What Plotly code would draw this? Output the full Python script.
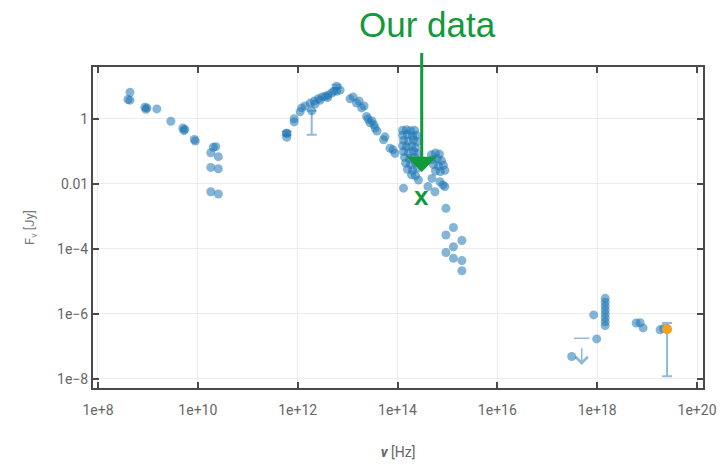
import math
import plotly.graph_objects as go

# ---------------- data ----------------
# archival SED points: frequency [Hz] and flux density [Jy]
radio_nu = [4.37e8, 4.37e8, 3.98e8, 8.71e8, 9.55e8, 9.12e8, 1.51e9, 2.88e9, 5.01e9, 5.50e9,
            5.25e9, 8.51e9, 8.91e9, 2.04e10, 2.29e10, 1.82e10, 2.57e10, 1.82e10, 2.57e10,
            1.82e10, 2.57e10]
radio_f = [6.61, 3.80, 3.98, 2.29, 2.19, 2.00, 2.04, 0.851, 0.525, 0.479,
           0.437, 0.234, 0.209, 0.135, 0.141, 0.0912, 0.0692, 0.0324, 0.0295,
           0.00575, 0.0049]

ir_nu = [6.03e11, 6.03e11, 8.51e11, 8.51e11, 1.20e12, 1.41e12, 1.12e12, 1.78e12, 2.14e12,
         2.24e12, 2.57e12, 2.82e12, 3.09e12, 3.55e12, 3.98e12, 4.07e12, 4.79e12, 5.37e12,
         6.03e12, 7.08e12, 1.12e13, 1.29e13, 1.51e13, 1.70e13, 1.91e13, 2.14e13, 2.40e13,
         2.57e13, 2.82e13, 3.09e13, 3.39e13, 3.55e13, 3.89e13, 5.25e13, 5.62e13, 7.08e13,
         8.13e13, 8.91e13]
ir_f = [0.363, 0.275, 1.02, 0.813, 2.19, 2.51, 1.66, 3.09, 3.55,
        2.88, 4.17, 3.80, 4.79, 5.01, 4.57, 5.50, 6.31, 7.24,
        7.08, 7.76, 4.17, 4.79, 3.09, 3.55, 2.19, 2.51, 1.20,
        1.00, 0.759, 0.871, 0.661, 0.525, 0.427, 0.229, 0.282, 0.126,
        0.112, 0.0871]

opt_nu = [1.26e14, 1.51e14, 1.82e14, 2.19e14, 1.26e14, 1.58e14, 2.00e14, 2.40e14, 1.32e14,
          1.66e14, 2.09e14, 2.51e14, 1.26e14, 1.51e14, 1.91e14, 2.29e14, 1.32e14, 1.66e14,
          2.09e14, 2.51e14, 1.38e14, 1.74e14, 2.19e14, 1.45e14, 1.82e14, 2.29e14, 1.58e14,
          2.00e14, 2.51e14, 1.91e14, 2.29e14, 2.63e14, 1.32e14,
          4.79e14, 5.75e14, 6.92e14, 5.01e14, 6.31e14, 7.59e14, 5.25e14, 6.61e14, 8.32e14,
          5.75e14, 7.24e14, 8.91e14, 4.90e14, 7.08e14, 8.91e14, 5.62e14, 8.13e14, 4.07e14]
opt_f = [0.447, 0.468, 0.437, 0.447, 0.316, 0.331, 0.302, 0.316, 0.219,
         0.209, 0.229, 0.200, 0.151, 0.138, 0.145, 0.132, 0.100, 0.0912,
         0.100, 0.0871, 0.0661, 0.0603, 0.0661, 0.0437, 0.0398, 0.0457, 0.0282,
         0.0263, 0.0302, 0.0191, 0.0178, 0.0132, 0.00741,
         0.0794, 0.0891, 0.0832, 0.0562, 0.0603, 0.0525, 0.0398, 0.0355, 0.0380,
         0.0251, 0.0240, 0.0263, 0.0148, 0.0117, 0.00832, 0.00575, 0.00933, 0.00832]

uv_nu = [9.33e14, 1.32e15, 9.33e14, 1.95e15, 1.32e15, 9.33e14, 1.32e15, 1.95e15, 1.95e15]
uv_f = [1.78e-3, 4.57e-4, 2.69e-4, 1.82e-4, 1.17e-4, 7.76e-5, 5.13e-5, 4.37e-5, 2.14e-5]

xray_nu = [1.45e18, 1.45e18, 1.45e18, 1.45e18, 1.45e18, 1.45e18, 1.45e18, 1.45e18,
           8.51e17, 9.77e17, 3.09e17, 6.03e18, 7.24e18, 8.32e18, 1.82e19, 2.14e19]
xray_f = [3.02e-6, 2.29e-6, 1.74e-6, 1.32e-6, 1.0e-6, 7.59e-7, 5.75e-7, 4.37e-7,
          9.33e-7, 1.70e-7, 4.90e-8, 5.25e-7, 5.37e-7, 3.72e-7, 3.24e-7, 3.55e-7]

# points with asymmetric error bars
err_nu = [6.03e11, 1.91e12, 6.03e12, 2.51e19]
err_f = [0.363, 1.78, 10.2, 3.55e-7]
err_plus = [0.05, 0.0, 1.2, 1.7e-7]
err_minus = [0.05, 1.45, 1.2, 3.43e-7]

# upper limit (X-ray)
ul_nu = 4.90e17
ul_f = 1.78e-7
ul_tip = 2.69e-8

# our data point
our_nu = [2.51e19]
our_f = [3.39e-7]

x_tickvals = [1e8, 1e10, 1e12, 1e14, 1e16, 1e18, 1e20]
x_ticktext = ["1e+8", "1e+10", "1e+12", "1e+14", "1e+16", "1e+18", "1e+20"]
y_tickvals = [1e-8, 1e-6, 1e-4, 1e-2, 1]
y_ticktext = ["1e\u22128", "1e\u22126", "1e\u22124", "0.01", "1"]

# ---------------- figure ----------------
BLUE = "rgba(31,119,180,0.55)"
GREEN = "#12993a"
mk = dict(color=BLUE, size=9, line=dict(width=0))

fig = go.Figure()
all_nu = radio_nu + ir_nu + opt_nu + uv_nu + xray_nu
all_f = radio_f + ir_f + opt_f + uv_f + xray_f
fig.add_trace(go.Scatter(x=all_nu, y=all_f, mode="markers", marker=mk,
                         hoverinfo="x+y", showlegend=False))
fig.add_trace(go.Scatter(
    x=err_nu, y=err_f, mode="markers", marker=mk, showlegend=False,
    error_y=dict(type="data", symmetric=False, array=err_plus, arrayminus=err_minus,
                 color="rgba(31,119,180,0.5)", thickness=2, width=5)))
# upper-limit cap
fig.add_trace(go.Scatter(x=[ul_nu], y=[ul_f], mode="markers", showlegend=False,
                         marker=dict(symbol="line-ew", size=11,
                                     line=dict(color="rgba(31,119,180,0.5)", width=1.5))))
fig.add_trace(go.Scatter(x=our_nu, y=our_f, mode="markers", showlegend=False,
                         marker=dict(color="#f7a21b", size=10, line=dict(width=0))))

axis_common = dict(
    type="log", showline=True, linecolor="#4a4a4a", linewidth=2, mirror="ticks",
    ticks="inside", ticklen=6, tickwidth=2, tickcolor="#4a4a4a",
    showgrid=True, gridcolor="#ececec", gridwidth=1, zeroline=False, automargin=False,
    ticklabeloverflow="allow",
    tickfont=dict(family="Roboto", size=14, color="#666666"),
)
fig.update_xaxes(**axis_common, range=[7.9, 20.12], tickvals=x_tickvals, ticktext=x_ticktext,
                 ticklabelstandoff=8,
                 title=dict(text="<b><i>\u03bd</i></b> [Hz]", standoff=30,
                            font=dict(family="Roboto", size=14, color="#666666")))
fig.update_yaxes(**axis_common, range=[-8.28, 1.6], tickvals=y_tickvals, ticktext=y_ticktext,
                 title=dict(text="F<sub>\u03bd</sub> [Jy]", standoff=19,
                            font=dict(family="Roboto", size=13, color="#777777")))

annotations = [
    dict(x=math.log10(ul_nu), y=math.log10(ul_tip), xref="x", yref="y",
         ax=math.log10(ul_nu), ay=math.log10(ul_f), axref="x", ayref="y",
         showarrow=True, arrowhead=4, arrowsize=1.6, arrowwidth=1.5,
         arrowcolor="rgba(31,119,180,0.5)", text=" "),
    dict(x=0.549, y=1.131, xref="paper", yref="paper", text="Our data", showarrow=False,
         font=dict(family="Liberation Sans", size=35, color=GREEN),
         xanchor="center", yanchor="middle"),
    dict(x=0.5389, y=0.673, xref="paper", yref="paper", text=" ", showarrow=True,
         ax=0, ay=-129, arrowhead=1, arrowsize=1.7, arrowwidth=3, arrowcolor=GREEN),
    dict(x=14.49, y=-2.37, xref="x", yref="y", text="<b>x</b>", showarrow=False,
         font=dict(family="Liberation Sans", size=26, color=GREEN)),
]

fig.update_layout(
    width=724, height=465, autosize=False,
    margin=dict(l=93, r=21, t=67, b=77),
    paper_bgcolor="white", plot_bgcolor="white",
    annotations=annotations, showlegend=False,
)

# remove the page body's default 8px margin so the figure fills the window exactly
fig.write_html("out.html", config={"displayModeBar": False},
               post_script="document.body.style.margin='0px';")
